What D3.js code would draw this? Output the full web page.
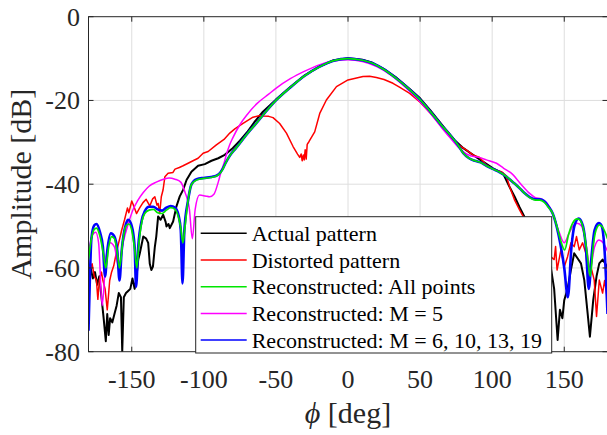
<!DOCTYPE html>
<html>
<head>
<meta charset="utf-8">
<script src="https://cdn.jsdelivr.net/npm/d3@7"></script>
<style>
  body { margin: 0; background: #fff; }
  svg { display: block; }
</style>
</head>
<body>
<div id="chart"></div>
<script>
// series values, [angle deg, amplitude dB]
const actualPattern = [
  [-180,-61],[-178.5,-60],[-177,-62.5],[-175.5,-61],[-174,-64],[-172.5,-62],[-171,-67],[-169.5,-72],[-168,-77.5],
  [-167,-71],[-166,-76],[-165,-72],[-163.5,-73],[-162,-71],[-160.5,-69],[-159,-66],[-157.5,-67],[-156.6,-80],
  [-155.5,-67],[-154,-66],[-152.5,-65.5],[-151,-65],[-149.5,-62.5],[-148,-65],[-147,-63],[-145.5,-58],[-144.4,-56.5],
  [-142,-52.5],[-140,-53],[-138.6,-54],[-137.5,-59],[-136.4,-60.5],[-135.3,-59.7],[-134,-55],[-133,-52.5],
  [-131.7,-47.7],[-130,-48.5],[-128.2,-47.3],[-126.5,-49],[-125.9,-50.1],[-124.5,-49.5],[-123.6,-50.5],[-121.3,-48.9],
  [-119,-45.3],[-116.7,-42.9],[-114.3,-41.3],[-112,-39],[-108.6,-37],[-104,-35.6],[-99.3,-35.2],[-94.7,-34.4],
  [-90,-33.8],[-85.5,-33],[-80,-31.4],[-75,-29.6],[-70,-27.6],[-65,-25.2],[-59,-22.7],[-50,-19.8],[-40,-16.8],
  [-30,-14],[-20,-11.9],[-10,-10.4],[0,-9.9],[10,-10.3],[17,-11],[25,-12.5],[33,-14.4],[43,-17.3],[50,-19.5],
  [57,-22.3],[68,-27],[74,-29.5],[80,-31.4],[86.7,-33],[93.6,-34.6],[100.6,-36.2],[107.5,-37.4],[112,-40.6],
  [115.6,-43],[119,-45.5],[122,-47.5],[125,-50],[128,-52],[131,-54],[134,-56],[137,-58],[140.6,-59.7],[143,-65],
  [145.4,-77.2],[147,-70],[148.7,-72],[150,-67.7],[152.3,-65],[154.6,-60.5],[156.9,-56.5],[159.2,-57.7],
  [161.6,-58.9],[163.9,-62.9],[166.2,-70.8],[167.8,-76.4],[170.1,-67.7],[172.4,-62],[174.3,-58.9],[176.6,-58],
  [178.5,-59],[180,-60]
];

const distortedPattern = [
  [-180,-59],[-179,-60.5],[-177.5,-59],[-176,-62],[-174.5,-63],[-173.5,-67.5],[-172.5,-63],[-171,-61],[-170,-63],
  [-168.5,-65],[-167,-70],[-166,-66],[-165.3,-63],[-164,-61],[-162.5,-59.5],[-160.5,-56],[-158,-52.5],[-157,-51],
  [-155,-48.5],[-153,-45.7],[-152,-46.8],[-150,-44],[-148.5,-45.3],[-146.7,-47],[-144.4,-45.6],[-142.2,-44.4],
  [-140,-43.6],[-137.5,-45.2],[-135.5,-43.5],[-134,-43],[-132.5,-45],[-131.7,-44.6],[-130.6,-47],[-129.5,-43],
  [-128.3,-41.4],[-127,-38.2],[-124.8,-37.4],[-121.4,-37.2],[-120,-36.4],[-117,-36],[-114.4,-35.6],[-110.9,-35],
  [-107.5,-34.4],[-104,-33.8],[-100.5,-32.6],[-97,-32.2],[-91.3,-30.6],[-86,-29.3],[-82,-27.8],[-78.5,-26.8],
  [-72.8,-25.5],[-65.9,-24],[-61,-23.6],[-58.9,-23.7],[-55,-23.8],[-52,-24.1],[-47.4,-25.5],[-42.7,-27.8],
  [-38.1,-31],[-35,-32.8],[-33.5,-33.6],[-32.5,-32.8],[-31.8,-34.4],[-31,-33],[-30.4,-34.2],[-29.7,-31.8],
  [-29,-34],[-28.3,-30.5],[-27,-29.8],[-23.1,-27.5],[-19.6,-23.1],[-15,-19.9],[-8,-16.7],[0,-15.1],[10.4,-14.3],
  [15,-14.2],[19.7,-14.5],[25,-15],[31.2,-15.9],[36,-16.9],[42.8,-18.3],[50,-20.4],[57,-23],[65,-26.3],
  [70.5,-28.6],[76,-30.5],[82,-31.8],[86.7,-33],[91.3,-33.6],[96,-35.4],[100.6,-36.4],[106.4,-37],[109.8,-38],
  [112.1,-40.6],[115.6,-43.8],[119.1,-46.2],[121.4,-47.6],[124,-50],[127,-53],[130,-55],[133,-55.5],[136,-56.5],
  [138.5,-57],[140.6,-57.3],[143,-58],[144,-54.9],[145,-60.5],[147.7,-55.7],[150,-59.7],[152.3,-57.3],
  [154.6,-54],[156.9,-54.9],[158.5,-52.5],[160.4,-55.7],[162.7,-54],[165,-56.5],[167.3,-64.5],[168.5,-59.7],
  [170.8,-62.9],[172.4,-71.6],[174.3,-62.9],[176.6,-66],[178,-63],[180,-67.7]
];

const reconstructedAll = [
  [-180,-58],[-178,-53],[-176,-50.8],[-174.5,-50.5],[-172,-52.5],[-169.5,-57],[-168,-60],[-166,-55],[-164,-52.5],
  [-162,-53],[-160,-56.5],[-158.5,-60],[-156,-53],[-154,-50],[-152,-49.5],[-150,-51],[-148,-55.5],[-146.5,-60],
  [-145,-54],[-143,-49],[-141,-47],[-138,-46.2],[-135,-46],[-132,-46.8],[-129,-47],[-126,-46.2],[-123,-45.6],
  [-120,-46],[-117.5,-48],[-116,-50.5],[-114.5,-54],[-113,-50],[-111,-44],[-108.5,-40],[-105,-39],[-100,-38.6],
  [-95,-38.4],[-90,-37.8],[-87,-36.5],[-85,-35],[-82,-33.2],[-78,-31.5],[-75,-30.2],[-70,-28],[-63,-25.2],
  [-57,-22.7],[-50,-20],[-40,-16.9],[-30,-14.1],[-20,-12],[-10,-10.5],[0,-10],[10,-10.4],[17,-11.1],[25,-12.6],
  [33,-14.6],[43,-17.5],[50,-19.8],[57,-22.6],[65,-26],[71,-28.3],[76,-30.5],[80,-32.6],[84,-33.8],[88,-34.4],
  [92,-34.8],[96,-35.6],[100,-36.3],[105,-37.1],[110,-38.2],[114,-39.4],[118,-40.6],[122,-42],[126,-43.2],
  [130,-43.8],[133,-43.8],[136,-44.3],[139,-45.5],[142,-47],[144,-49],[146,-51.5],[148,-54],[150.3,-55.7],
  [153,-52],[156,-49.2],[159,-48.3],[161,-48.6],[164,-52],[166,-57],[168,-62],[170,-55],[172,-51],[174.5,-49.7],
  [177,-50.5],[180,-53]
];

const reconstructedM5 = [
  [-180,-56],[-177,-52],[-175,-51.5],[-173,-54],[-170.5,-69],[-168,-58],[-165,-54],[-162,-55],[-159,-60],
  [-156,-54],[-152,-49],[-149,-46],[-146,-44],[-142,-42],[-138,-40.5],[-133,-39.5],[-128,-38.8],[-124,-38.5],
  [-120,-38.8],[-116,-39.5],[-113,-42],[-110,-46],[-108,-53],[-106,-46],[-103,-42.6],[-99,-42.8],[-96,-43],
  [-93,-42.4],[-90,-39.5],[-88,-37],[-86,-35],[-84,-32.5],[-82,-30.5],[-80,-29],[-75,-25.8],[-70,-23.4],
  [-63,-20.7],[-55,-18.5],[-50,-17.1],[-40,-14.8],[-30,-13],[-20,-11.5],[-10,-10.6],[0,-10.3],[10,-10.7],
  [20,-11.9],[30,-14],[40,-16.9],[50,-20.3],[57,-23],[65,-26.5],[71,-29],[76,-31],[80,-32.3],[85,-33.2],
  [91,-33.6],[96,-34.2],[103,-35],[108,-36.2],[114,-37.6],[120,-40],[126,-42.2],[130,-43.2],[134,-43.5],
  [138,-44.5],[142,-47],[146,-51],[150,-54],[153,-52],[156,-50],[159,-49.3],[162,-50],[165,-54],[168,-60],
  [171,-55],[174,-53.3],[177,-54],[180,-56]
];

const reconstructedMulti = [
  [-180,-75],[-179,-62],[-178,-53],[-176,-49.8],[-174.5,-49.5],[-172,-51.5],[-170,-55],[-168.5,-62],[-167,-56],
  [-164.5,-51.7],[-162,-52.5],[-160,-56],[-158.5,-63],[-157,-56],[-154,-49.5],[-152.5,-48.5],[-150,-50],
  [-148,-55],[-147,-64.5],[-145.5,-55],[-143,-48.5],[-141,-46.5],[-138,-45.4],[-135,-45.4],[-132,-46],
  [-129,-46.3],[-126,-45.6],[-123,-45.2],[-120,-45.6],[-117.5,-47.5],[-116,-51],[-114.8,-63.7],[-113.5,-51],
  [-111,-44],[-108.5,-40],[-105,-38.8],[-100,-38.5],[-95,-38.3],[-90,-37.7],[-87,-36.4],[-85,-35],[-82,-33.2],
  [-78,-31.5],[-75,-30.2],[-70,-28],[-63,-25.2],[-57,-22.7],[-50,-20],[-40,-16.9],[-30,-14.1],[-20,-12],
  [-10,-10.5],[0,-10],[10,-10.4],[17,-11.1],[25,-12.6],[33,-14.6],[43,-17.5],[50,-19.8],[57,-22.6],[65,-26],
  [71,-28.3],[76,-30.5],[80,-32.6],[84,-33.8],[88,-34.4],[92,-34.8],[96,-35.6],[100,-36.3],[105,-37.1],
  [110,-38.2],[114,-39.4],[118,-40.6],[122,-42],[126,-43.1],[130,-43.6],[133,-43.6],[136,-44],[139,-45.3],
  [142,-47],[146,-52],[150,-60],[152.5,-67],[155,-55],[157,-50],[160,-48.2],[163,-50],[165,-55],[167,-65],
  [169,-57],[171,-51],[174,-49.3],[176,-50],[178,-56],[180,-71]
];

const xTicks = [-150, -100, -50, 0, 50, 100, 150];
const yTicks = [-80, -60, -40, -20, 0];
const legendLabels = ["Actual pattern", "Distorted pattern", "Reconstructed: All points",
                      "Reconstructed: M = 5", "Reconstructed: M = 6, 10, 13, 19"];

const W = 607, H = 435;
const plot = {left: 88.5, right: 607.5, top: 16.7, bottom: 351.7};
const axisColor = "#262626";

const svg = d3.select("#chart").append("svg")
    .attr("width", W)
    .attr("height", H)
    .style("font-family", "'Liberation Serif', 'Times New Roman', serif");

const x = d3.scaleLinear().domain([-180, 180]).range([plot.left, plot.right]);
const y = d3.scaleLinear().domain([-80, 0]).range([plot.bottom, plot.top]);

svg.append("defs").append("clipPath").attr("id", "clip")
    .append("rect")
    .attr("x", plot.left).attr("y", plot.top)
    .attr("width", plot.right - plot.left).attr("height", plot.bottom - plot.top);

// grid
const grid = svg.append("g").attr("stroke", "#dedede").attr("stroke-width", 1);
grid.selectAll(".gx").data(xTicks).join("line")
    .attr("x1", d => x(d)).attr("x2", d => x(d))
    .attr("y1", plot.top).attr("y2", plot.bottom);
grid.selectAll(".gy").data(yTicks.filter(d => d > -80 && d < 0)).join("line")
    .attr("x1", plot.left).attr("x2", plot.right)
    .attr("y1", d => y(d)).attr("y2", d => y(d));

// curves
const series = [
  {data: actualPattern, color: "#000000", width: 2, curve: d3.curveLinear},
  {data: distortedPattern, color: "#ff0000", width: 1.5, curve: d3.curveLinear},
  {data: reconstructedM5, color: "#ff00ff", width: 1.5, curve: d3.curveMonotoneX},
  {data: reconstructedMulti, color: "#0000ff", width: 2.6, curve: d3.curveMonotoneX},
  {data: reconstructedAll, color: "#00e600", width: 1.7, curve: d3.curveMonotoneX}
];

const curves = svg.append("g").attr("clip-path", "url(#clip)");
series.forEach(s => {
  const line = d3.line()
      .x(d => x(d[0]))
      .y(d => y(d[1]))
      .curve(s.curve);
  curves.append("path")
      .datum(s.data)
      .attr("fill", "none")
      .attr("stroke", s.color)
      .attr("stroke-width", s.width)
      .attr("stroke-linejoin", "round")
      .attr("d", line);
});

// axes box and ticks
const axes = svg.append("g").attr("stroke", axisColor).attr("stroke-width", 1);
axes.append("rect")
    .attr("x", plot.left).attr("y", plot.top)
    .attr("width", plot.right - plot.left).attr("height", plot.bottom - plot.top)
    .attr("fill", "none");
const tl = 5;
axes.selectAll(".tb").data(xTicks).join("line")
    .attr("x1", d => x(d)).attr("x2", d => x(d))
    .attr("y1", plot.bottom).attr("y2", plot.bottom - tl);
axes.selectAll(".tt").data(xTicks).join("line")
    .attr("x1", d => x(d)).attr("x2", d => x(d))
    .attr("y1", plot.top).attr("y2", plot.top + tl);
axes.selectAll(".tl").data(yTicks).join("line")
    .attr("x1", plot.left).attr("x2", plot.left + tl)
    .attr("y1", d => y(d)).attr("y2", d => y(d));
axes.selectAll(".tr").data(yTicks).join("line")
    .attr("x1", plot.right - tl).attr("x2", plot.right)
    .attr("y1", d => y(d)).attr("y2", d => y(d));

// tick labels
svg.append("g").selectAll("text").data(xTicks).join("text")
    .attr("x", d => x(d))
    .attr("y", 388)
    .attr("text-anchor", "middle")
    .attr("font-size", 26)
    .attr("fill", axisColor)
    .text(d => d);
svg.append("g").selectAll("text").data(yTicks).join("text")
    .attr("x", 80)
    .attr("y", d => y(d) + 9)
    .attr("text-anchor", "end")
    .attr("font-size", 26)
    .attr("fill", axisColor)
    .text(d => d);

// axis labels
svg.append("text")
    .attr("transform", `translate(31,${(plot.top + plot.bottom) / 2}) rotate(-90)`)
    .attr("text-anchor", "middle")
    .attr("font-size", 30)
    .attr("fill", axisColor)
    .text("Amplitude [dB]");
const xl = svg.append("text")
    .attr("x", x(0))
    .attr("y", 423)
    .attr("text-anchor", "middle")
    .attr("font-size", 30)
    .attr("fill", axisColor);
xl.append("tspan").attr("font-style", "italic").text("ϕ");
xl.append("tspan").text(" [deg]");

// legend
const leg = {x: 195.7, y: 216.7, w: 356, h: 136.3, row: 26.7};
const legend = svg.append("g");
legend.append("rect")
    .attr("x", leg.x).attr("y", leg.y)
    .attr("width", leg.w).attr("height", leg.h)
    .attr("fill", "#fff")
    .attr("stroke", axisColor)
    .attr("stroke-width", 1);
const legendColors = ["#000000", "#ff0000", "#00e600", "#ff00ff", "#0000ff"];
legendLabels.forEach((label, i) => {
  const cy = leg.y + 16.6 + i * leg.row;
  legend.append("line")
      .attr("x1", leg.x + 5).attr("x2", leg.x + 51)
      .attr("y1", cy).attr("y2", cy)
      .attr("stroke", legendColors[i])
      .attr("stroke-width", 1.5);
  legend.append("text")
      .attr("x", leg.x + 56)
      .attr("y", cy + 7.5)
      .attr("font-size", 22)
      .attr("fill", "#000")
      .text(label);
});
</script>
</body>
</html>
